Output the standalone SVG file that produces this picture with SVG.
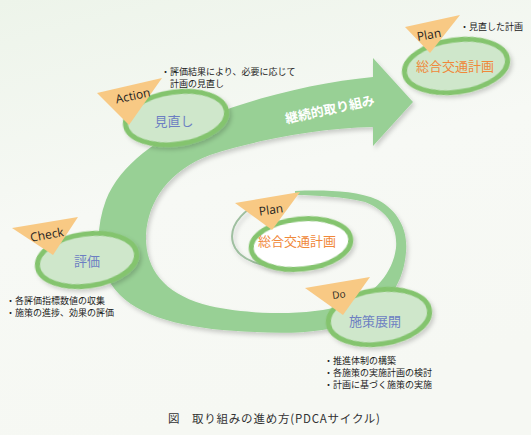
<svg xmlns="http://www.w3.org/2000/svg" width="531" height="435" viewBox="0 0 531 435">
<defs>
<linearGradient id="bg" x1="0" y1="0" x2="0.3" y2="1">
<stop offset="0" stop-color="#edf4ea"/>
<stop offset="0.5" stop-color="#f7f9f5"/>
<stop offset="1" stop-color="#f6f8f3"/>
</linearGradient>
<filter id="sh" x="-10%" y="-10%" width="130%" height="130%">
<feDropShadow dx="2" dy="3" stdDeviation="2" flood-color="#000" flood-opacity="0.18"/>
</filter>
<style>
.band{fill:#98d095;}
.node{fill:#cfe7cb;stroke:#84c46e;stroke-width:5;}
.inode{fill:#ffffff;stroke:#84c46e;stroke-width:5;}
.tri{fill:#f8c984;}
.lat{font-family:"Open Sans","Noto Sans",sans-serif;font-size:12px;fill:#1e1e1e;text-anchor:middle;}
.lbl{font-family:"Noto Sans CJK JP",sans-serif;font-size:13px;text-anchor:middle;}
.blue{fill:#6d7fc2;}
.org{fill:#f0883a;}
.note{font-family:"Noto Sans CJK JP",sans-serif;font-size:9px;fill:#222;}
</style>
</defs>
<rect width="531" height="435" fill="url(#bg)"/>

<g id="connectors">
<path class="band" filter="url(#sh)" d="M413,102 L373,146 L373,127 C320,128 255,140 210,155 C170,170 148,200 146,235 C145,270 165,295 210,306 C250,315 310,316 345,305 C375,295 393,272 396,248 C398,225 385,210 365,202 C345,197 315,195 295,195 L295,191 C322,190 355,190 378,200 C400,212 408,232 406,252 C404,280 390,305 360,320 C330,333 290,334 255,332 C195,330 145,320 120,295 C97,272 93,235 106,200 C120,165 158,137 205,118 C255,97 320,82 373,77 L373,58 Z"/>
<path d="M275,198 C245,205 228,225 233,243 C238,260 262,268 292,268" fill="none" stroke="#9fbfa0" stroke-width="2" filter="url(#sh)"/>
<text x="330" y="114" transform="rotate(-12 330 110)" font-family="Noto Sans CJK JP,sans-serif" font-size="13" font-weight="bold" fill="#ffffff" text-anchor="middle">継続的取り組み</text>
</g>

<g id="plan-top">
<ellipse class="node" cx="456" cy="66" rx="52" ry="26" transform="rotate(-8 456 66)" filter="url(#sh)"/>
<polygon class="tri" points="405,27 460,15 430,53"/>
<text class="lat" x="429" y="39" transform="rotate(-10 429 35)">Plan</text>
<text class="lbl org" x="455" y="71">総合交通計画</text>
<text class="note" x="460" y="30">・見直した計画</text>
</g>

<g id="action">
<ellipse class="node" cx="176" cy="118" rx="51" ry="26" transform="rotate(-8 176 118)" filter="url(#sh)"/>
<polygon class="tri" points="97,93 162,78 129,125"/>
<text class="lat" x="133" y="100" transform="rotate(-12 133 96)">Action</text>
<text class="lbl blue" x="174" y="126">見直し</text>
<text class="note" x="161" y="75">・評価結果により、必要に応じて</text>
<text class="note" x="170" y="87">計画の見直し</text>
</g>

<g id="check">
<ellipse class="node" cx="87" cy="260" rx="50" ry="26" transform="rotate(-8 87 260)" filter="url(#sh)"/>
<polygon class="tri" points="12,228 78,217 53,255"/>
<text class="lat" x="47" y="239" transform="rotate(-10 47 235)">Check</text>
<text class="lbl blue" x="87" y="266">評価</text>
<text class="note" x="6" y="304">・各評価指標数値の収集</text>
<text class="note" x="6" y="316">・施策の進捗、効果の評価</text>
</g>

<g id="plan-inner">
<ellipse class="inode" cx="301" cy="244" rx="50" ry="25" transform="rotate(-6 301 244)" filter="url(#sh)"/>
<polygon class="tri" points="235,203 300,192 272,230"/>
<text class="lat" x="271" y="214" transform="rotate(-8 271 210)">Plan</text>
<text class="lbl org" x="297" y="246">総合交通計画</text>
</g>

<g id="do">
<ellipse class="node" cx="379" cy="317" rx="51" ry="27" transform="rotate(-8 379 317)" filter="url(#sh)"/>
<polygon class="tri" points="305,288 370,277 343,315"/>
<text class="lat" x="339" y="298" transform="rotate(-8 339 295)" style="font-size:10px">Do</text>
<text class="lbl blue" x="375" y="326">施策展開</text>
<text class="note" x="324" y="364">・推進体制の構築</text>
<text class="note" x="324" y="376">・各施策の実施計画の検討</text>
<text class="note" x="324" y="388">・計画に基づく施策の実施</text>
</g>

<g id="caption">
<text x="168" y="423" font-family="Noto Sans CJK JP,sans-serif" font-size="11.5" fill="#333">図</text>
<text x="192" y="423" font-family="Noto Sans CJK JP,sans-serif" font-size="11.5" fill="#333" textLength="188" lengthAdjust="spacing">取り組みの進め方(PDCAサイクル)</text>
</g>
</svg>
